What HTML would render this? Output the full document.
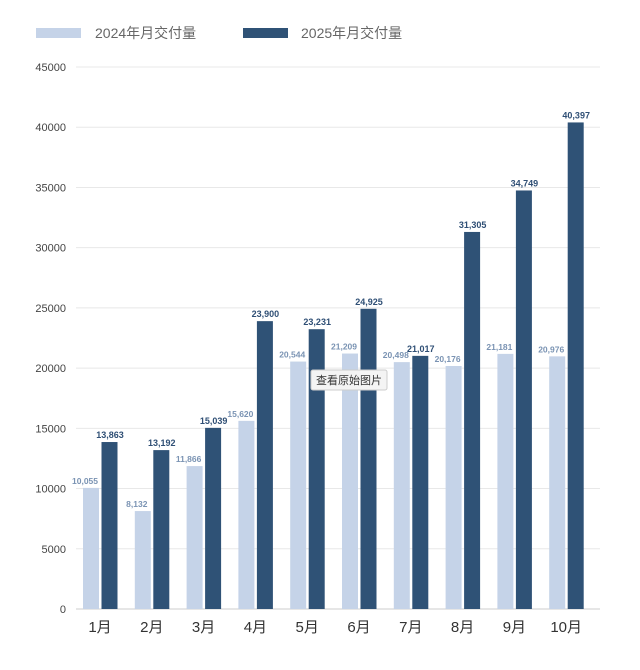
<!DOCTYPE html>
<html><head><meta charset="utf-8"><style>
body{margin:0;background:#fff;width:640px;height:665px;overflow:hidden;font-family:"Liberation Sans","Noto Sans CJK SC",sans-serif}
</style></head><body>
<svg id="c" width="640" height="665"></svg>
<script>
const categories=["1月","2月","3月","4月","5月","6月","7月","8月","9月","10月"];
const s2024=[10055,8132,11866,15620,20544,21209,20498,20176,21181,20976];
const s2025=[13863,13192,15039,23900,23231,24925,21017,31305,34749,40397];
const yTicks=[0,5000,10000,15000,20000,25000,30000,35000,40000,45000];
const NS="http://www.w3.org/2000/svg";
const svg=document.getElementById('c');
const y0=609,y1=67,yMax=45000;
const Y=v=>y0-(v/yMax)*(y0-y1);
const X=i=>100+i*51.8;
function mk(t,a,txt){const e=document.createElementNS(NS,t);for(const k in a)e.setAttribute(k,a[k]);if(txt!=null)e.textContent=txt;svg.appendChild(e);return e;}
let e=mk('rect',{x:36,y:28,width:45,height:10,fill:'#c5d3e8'});

e=mk('text',{x:95,y:38,'font-size':14,fill:'#666'},'2024年月交付量');

e=mk('rect',{x:243,y:28,width:45,height:10,fill:'#2f5276'});

e=mk('text',{x:301,y:38,'font-size':14,fill:'#666'},'2025年月交付量');

yTicks.forEach(v=>{
  const g=mk('line',{x1:76,x2:600,y1:Y(v),y2:Y(v),stroke:v===0?'#ccc':'#e8e8e8','stroke-width':1});
  
  const t=mk('text',{x:66,y:Y(v)+4,'font-size':11,fill:'#444','text-anchor':'end'},String(v));
  
});
const fmt=v=>v.toLocaleString('en-US');
categories.forEach((c,i)=>{
  const cx=X(i);
  let b=mk('rect',{x:cx-17,y:Y(s2024[i]),width:16,height:y0-Y(s2024[i]),fill:'#c5d3e8'});
  
  b=mk('rect',{x:cx+1.5,y:Y(s2025[i]),width:16,height:y0-Y(s2025[i]),fill:'#2f5276'});
  
  let t=mk('text',{x:cx-15,y:Y(s2024[i])-4,'font-size':8.5,'font-weight':'bold',fill:'#7a93b3','text-anchor':'middle'},fmt(s2024[i]));
  
  t=mk('text',{x:cx+10,y:Y(s2025[i])-4,'font-size':9,'font-weight':'bold',fill:'#2f4f75','text-anchor':'middle'},fmt(s2025[i]));
  
  t=mk('text',{x:cx,y:632,'font-size':15,fill:'#333','text-anchor':'middle'},c);
  
});
e=mk('rect',{x:311,y:370,width:76,height:20,rx:2,fill:'#f4f4f4',stroke:'#ccc'});

e=mk('text',{x:349,y:384,'font-size':11,fill:'#333','text-anchor':'middle'},'查看原始图片');

</script>
</body></html>
